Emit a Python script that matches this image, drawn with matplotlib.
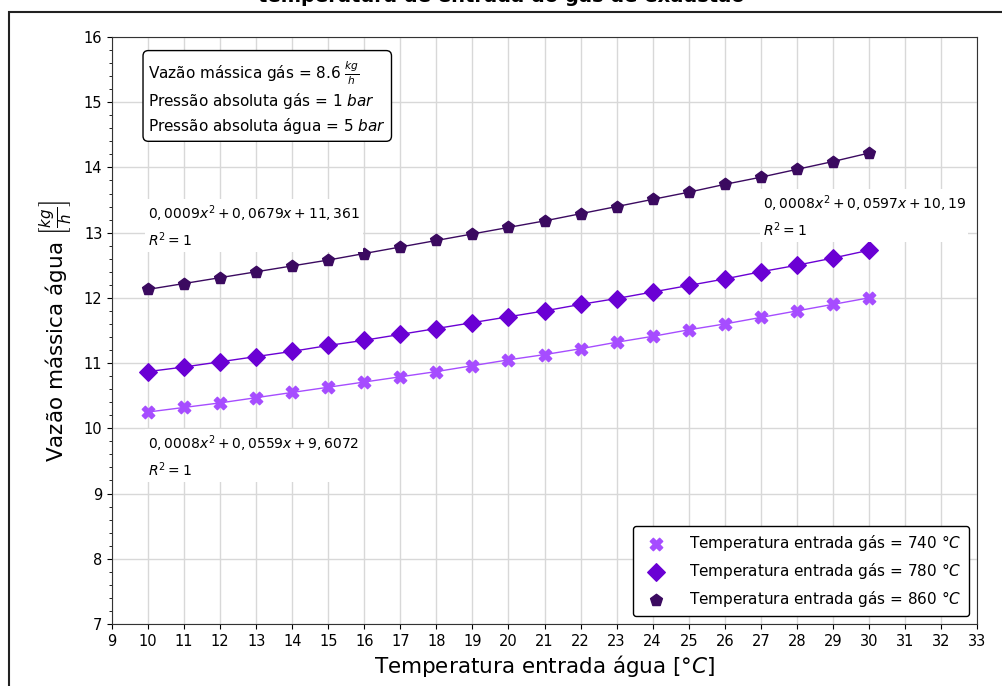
import matplotlib.pyplot as plt
from matplotlib.patches import Rectangle
from matplotlib.ticker import MultipleLocator

# water inlet temperature [°C]
temp_agua = list(range(10, 31))

# water mass flow [kg/h] for each gas inlet temperature
vazao_740 = [10.25, 10.32, 10.39, 10.47, 10.55, 10.63, 10.71, 10.79, 10.87, 10.96, 11.05,
             11.13, 11.22, 11.32, 11.41, 11.51, 11.60, 11.70, 11.80, 11.90, 12.00]
vazao_780 = [10.87, 10.94, 11.02, 11.10, 11.18, 11.27, 11.35, 11.44, 11.53, 11.62, 11.71,
             11.80, 11.90, 11.99, 12.09, 12.19, 12.29, 12.40, 12.50, 12.61, 12.73]
vazao_860 = [12.13, 12.22, 12.31, 12.40, 12.49, 12.58, 12.68, 12.78, 12.88, 12.98, 13.08,
             13.18, 13.29, 13.40, 13.51, 13.62, 13.74, 13.85, 13.97, 14.09, 14.22]

series = [
    (vazao_740, "740", "#a64dff", "X"),
    (vazao_780, "780", "#6a00d4", "D"),
    (vazao_860, "860", "#3b0a60", "p"),
]

fits = [
    (10.0, 13.45, "$0,0009x^2+0,0679x+11,361$\n$R^2=1$"),
    (27.05, 13.60, "$0,0008x^2+0,0597x+10,19$\n$R^2=1$"),
    (10.0, 9.92, "$0,0008x^2+0,0559x+9,6072$\n$R^2=1$"),
]

fig = plt.figure(figsize=(10.03, 6.86), dpi=100)
ax = fig.add_axes([0.1117, 0.0904, 0.8624, 0.8557])

for vals, label, color, marker in series:
    ax.plot(temp_agua, vals, color=color, lw=1, zorder=2)
    ax.scatter(temp_agua, vals, color=color, marker=marker, s=80, zorder=3,
               label=f"Temperatura entrada gás = {label} $°C$")

for x, y, txt in fits:
    ax.text(x, y, txt, fontsize=10, va="top", ha="left", linespacing=1.4,
            bbox=dict(facecolor="white", edgecolor="none", pad=2), zorder=4)

ax.text(0.042, 0.962,
        "Vazão mássica gás = 8.6 $\\frac{kg}{h}$\nPressão absoluta gás = 1 $bar$\nPressão absoluta água = 5 $bar$",
        transform=ax.transAxes, fontsize=11, va="top", ha="left", linespacing=1.3,
        bbox=dict(boxstyle="round,pad=0.35", facecolor="white", edgecolor="black"), zorder=5)

ax.set_xlim(9, 33)
ax.set_ylim(7, 16)
ax.xaxis.set_major_locator(MultipleLocator(1))
ax.yaxis.set_major_locator(MultipleLocator(1))
ax.yaxis.set_minor_locator(MultipleLocator(0.2))
ax.tick_params(labelsize=10.5)
ax.grid(True, which="major", color="#d8d8d8", lw=1)
ax.set_axisbelow(True)
for s in ax.spines.values():
    s.set_color("#333333")

ax.set_xlabel("Temperatura entrada água [$°C$]", fontsize=15.5, labelpad=3)
ax.set_ylabel("Vazão mássica água $\\left[\\frac{kg}{h}\\right]$", fontsize=15.5, labelpad=6)

leg = ax.legend(loc="lower right", fontsize=11, edgecolor="black", framealpha=1,
                borderpad=0.5, handletextpad=1.2)

fig.text(0.5, 1 - 2 / 686, "temperatura de entrada do gás de exaustão",
         ha="center", va="baseline", fontsize=14, weight="bold")

# outer frame around the figure
fig.patches.append(Rectangle((9 / 1003, -0.1), 1.2, 1 - 12 / 686 + 0.1,
                             transform=fig.transFigure, fill=False,
                             edgecolor="#222222", lw=1.5))

fig.savefig("out.png", dpi=100)
